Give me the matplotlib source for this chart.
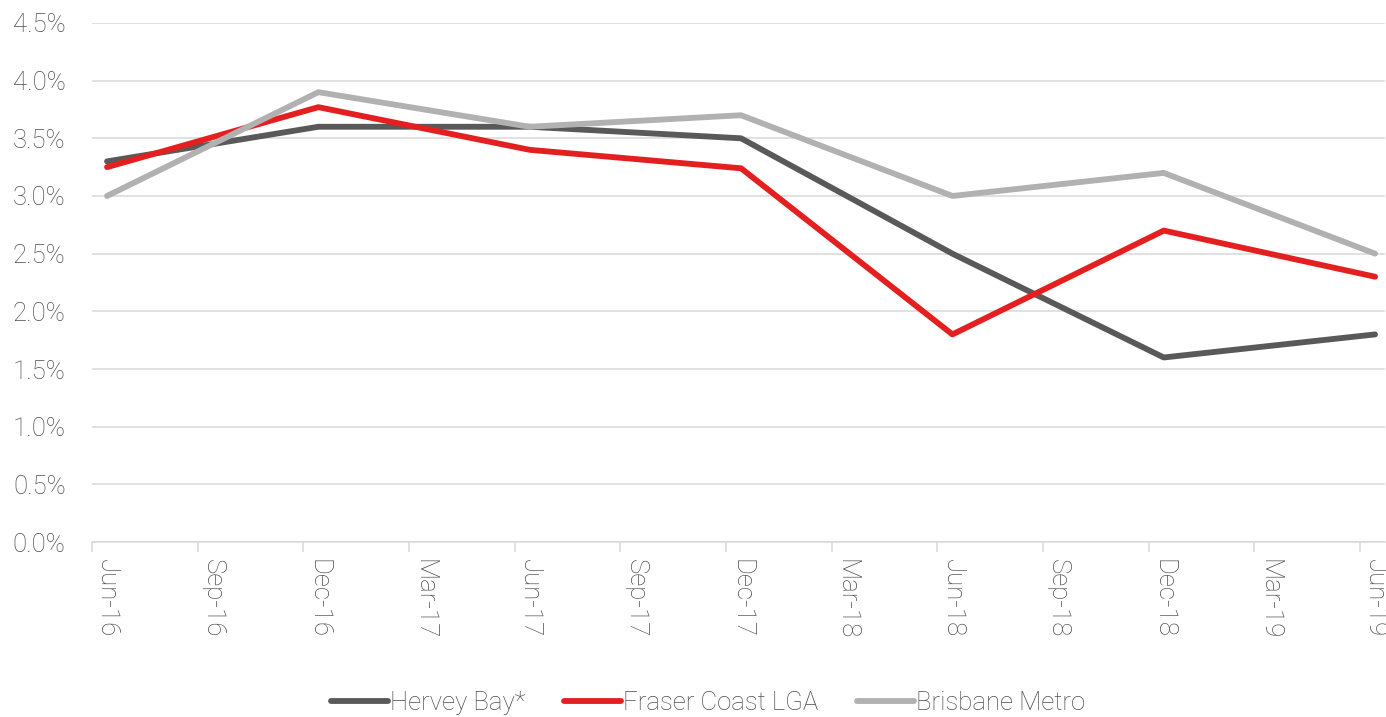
import numpy as np
import matplotlib.pyplot as plt
from matplotlib.ticker import FixedLocator, PercentFormatter

# quarterly categories, values only every half-year
quarters = ["Jun-16", "Sep-16", "Dec-16", "Mar-17", "Jun-17", "Sep-17", "Dec-17",
            "Mar-18", "Jun-18", "Sep-18", "Dec-18", "Mar-19", "Jun-19"]
data_idx = [0, 2, 4, 6, 8, 10, 12]

hervey_bay = [3.3, 3.6, 3.6, 3.5, 2.5, 1.6, 1.8]
fraser_coast = [3.25, 3.77, 3.4, 3.24, 1.8, 2.7, 2.3]
brisbane_metro = [3.0, 3.9, 3.6, 3.7, 3.0, 3.2, 2.5]

series = [("Hervey Bay*", hervey_bay, "#595959"),
          ("Fraser Coast LGA", fraser_coast, "#e3201f"),
          ("Brisbane Metro", brisbane_metro, "#b1b1b1")]

plt.rcParams['font.family'] = ['Roboto', 'DejaVu Sans']
plt.rcParams['font.weight'] = 'light'
text_col = "#4d4d4d"
grid_col = "#d9d9d9"

fig = plt.figure(figsize=(13.86, 7.17), dpi=100)
ax = fig.add_axes([0.0664, 0.244, 0.9326, 0.724])

for name, vals, col in series:
    ax.plot(data_idx, vals, color=col, lw=4.2, label=name,
            solid_capstyle='round', solid_joinstyle='round')

ax.set_ylim(0, 4.5)
ax.set_xlim(-0.142, 12.09)
ax.set_yticks(np.arange(0, 4.51, 0.5))
ax.yaxis.set_major_formatter(PercentFormatter(decimals=1))
ax.grid(axis='y', color=grid_col, lw=1.1)
ax.set_axisbelow(True)

# labels centred on the categories, tick marks sit a bit to the left
ax.set_xticks(range(len(quarters)))
ax.set_xticklabels(quarters, rotation=270, va='top', ha='center')
ax.xaxis.set_minor_locator(FixedLocator(np.arange(len(quarters)) - 0.142))
ax.tick_params(axis='x', which='major', length=0, pad=12, labelsize=18.5, labelcolor=text_col)
ax.tick_params(axis='x', which='minor', length=7, width=1.1, color=grid_col)
ax.tick_params(axis='y', length=0, pad=19, labelsize=18.5, labelcolor=text_col)

for s in ['top', 'right', 'left']:
    ax.spines[s].set_visible(False)
ax.spines['bottom'].set_color(grid_col)
ax.spines['bottom'].set_linewidth(1.1)

leg = fig.legend(loc='center', bbox_to_anchor=(0.511, 0.0195), ncol=3, frameon=False,
                 fontsize=18.5, handlelength=2.2, handletextpad=0.1, columnspacing=1.5)
for t in leg.get_texts():
    t.set_color(text_col)

fig.savefig("out.png", dpi=100)
